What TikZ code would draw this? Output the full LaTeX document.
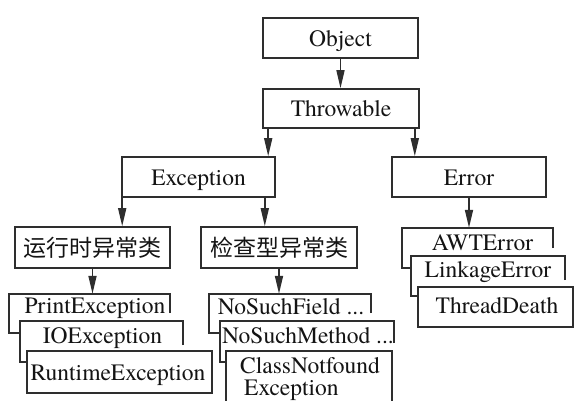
\documentclass[tikz,border=0pt]{standalone}
\usepackage{fontspec}
\setmainfont{texgyretermes}[Extension=.otf, UprightFont=*-regular]
\newfontfamily\cjk{Noto Sans CJK SC}
\usetikzlibrary{arrows.meta}
\definecolor{linegray}{HTML}{2E2E2E}
\definecolor{inkgray}{HTML}{141414}

\begin{document}
\begin{tikzpicture}[x=1pt,y=-1pt,
  frame/.style={draw=linegray, line width=1.6pt},
  txt/.style={text=inkgray, font=\fontsize{23.5}{26}\selectfont, inner sep=0pt},
  box/.style={frame, txt, rectangle, text height=16pt, text depth=0pt},
  cbox/.style={frame, rectangle, inner sep=0pt, text=inkgray, font=\cjk\fontsize{23}{26}\selectfont},
  card/.style={rectangle, inner sep=0pt},
  arr/.style={draw=linegray, line width=1.6pt, -{Triangle[length=18pt,width=8pt]}}
]
\useasboundingbox (0,0) rectangle (574,400);
\fill[white] (0,0) rectangle (574,400);

% upper hierarchy
\node[box, minimum width=155pt, minimum height=40pt] (obj) at (340.5,38) {Object};
\node[box, minimum width=156pt, minimum height=39pt] (thr) at (341,108.5) {Throwable};
\node[box, minimum width=153pt, minimum height=40pt] (exc) at (198.5,177) {Exception};
\node[box, minimum width=154pt, minimum height=40pt] (err) at (469,177) {Error};
\node[cbox, minimum width=155pt, minimum height=41pt] (rt) at (92.5,247.5) {运行时异常类};
\node[cbox, minimum width=156pt, minimum height=41pt] (ck) at (279,247.5) {检查型异常类};

% stacked cards (anchor rectangles)
\node[card, minimum width=161pt, minimum height=39pt] (pc) at (89.5,313.5) {};
\node[card, minimum width=163pt, minimum height=41pt] (io) at (101.5,341.5) {};
\node[card, frame, minimum width=185pt, minimum height=42pt] (rte) at (119.5,372) {};
\node[card, minimum width=162pt, minimum height=39pt] (nsf) at (290,313.5) {};
\node[card, minimum width=174pt, minimum height=41pt] (nsm) at (307,341.5) {};
\node[card, minimum width=166pt, minimum height=59pt] (cnf) at (309,380.5) {};
\node[card, minimum width=151pt, minimum height=40pt] (awt) at (477.5,248) {};
\node[card, minimum width=154pt, minimum height=40pt] (lnk) at (488,276) {};
\node[card, frame, minimum width=155pt, minimum height=40pt] (td) at (495.5,307) {};

% card outlines, each partly hidden behind the next one
\draw[frame] (pc.east |- 0,313) -- (pc.north east) -- (pc.north west) -- (pc.south west) -- (io.west |- pc.south);
\draw[frame] (io.east |- 0,345) -- (io.north east) -- (io.north west) -- (io.south west) -- (rte.west |- io.south);
\draw[frame] (nsf.east |- 0,313) -- (nsf.north east) -- (nsf.north west) -- (nsf.south west) -- (nsm.west |- nsf.south);
\draw[frame] (nsm.east |- 0,343) -- (nsm.north east) -- (nsm.north west) -- (nsm.south west) -- (cnf.west |- nsm.south);
\draw[frame] (cnf.west |- 0,401) -- (cnf.north west) -- (cnf.north east) -- (cnf.east |- 0,401);
\draw[frame] (awt.east |- 0,248) -- (awt.north east) -- (awt.north west) -- (awt.south west) -- (lnk.west |- awt.south);
\draw[frame] (lnk.east |- 0,280) -- (lnk.north east) -- (lnk.north west) -- (lnk.south west) -- (td.west |- lnk.south);

% card labels
\node[txt, anchor=base] (tpc) at (95,313) {PrintException};
\node[txt, anchor=base] (tio) at (102.5,343) {IOException};
\node[txt, anchor=base] (trte) at (118,380) {RuntimeException};
\node[txt, anchor=base] (tnsf) at (291,314) {NoSuchField ...};
\node[txt, anchor=base] (tnsm) at (308,343) {NoSuchMethod ...};
\node[txt, anchor=base west] (tcnf) at (240,373) {ClassNotfound};
\node[txt, anchor=base west] (tcnf2) at (244,395) {Exception};
\node[txt, anchor=base] (tawt) at (482.5,250) {AWTError};
\node[txt, anchor=base] (tlnk) at (488,277) {LinkageError};
\node[txt, anchor=base] (ttd) at (497,313) {ThreadDeath};

% connectors
\draw[arr] (obj.south) -- (obj.south |- thr.north);
\draw[arr] ([xshift=6pt]thr.south west) -- ([xshift=6pt]thr.south west |- exc.north);
\draw[arr] ([xshift=-5pt]thr.south east) -- ([xshift=-5pt]thr.south east |- err.north);
\draw[arr] ([xshift=1pt]exc.south west) -- ([xshift=1pt]exc.south west |- rt.north);
\draw[arr] ([xshift=-11pt]exc.south east) -- ([xshift=-11pt]exc.south east |- ck.north);
\draw[arr] (err.south) -- (err.south |- awt.north);
\draw[arr] (rt.south) -- (rt.south |- pc.north);
\draw[arr] (ck.south) -- (ck.south |- nsf.north);
\end{tikzpicture}
\end{document}
